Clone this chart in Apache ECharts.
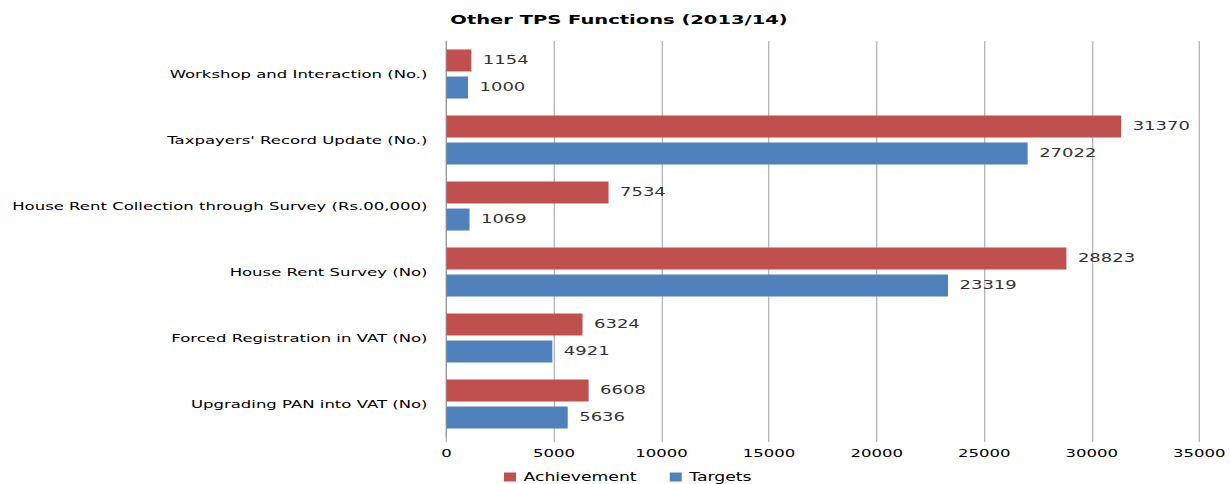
<!DOCTYPE html>
<html><head><meta charset="utf-8">
<script src="https://cdn.jsdelivr.net/npm/echarts@6/dist/echarts.min.js"></script>
<style>html,body{margin:0;padding:0;background:#fff;overflow:hidden}
#wrap{width:1230px;height:484px;overflow:hidden}
#c{width:820px;height:484px;transform:scaleX(1.5);transform-origin:0 0}</style>
</head><body><div id="wrap"><div id="c"></div></div>
<script>
const categories = ["Upgrading PAN into VAT (No)", "Forced Registration in VAT (No)", "House Rent Survey (No)", "House Rent Collection through Survey (Rs.00,000)", "Taxpayers' Record Update (No.)", "Workshop and Interaction (No.)"];
const achievement = [6608, 6324, 28823, 7534, 31370, 1154];
const targets = [5636, 4921, 23319, 1069, 27022, 1000];
const xTicks = [0, 5000, 10000, 15000, 20000, 25000, 30000, 35000];
const FONT = "DejaVu Sans";
const S = 1.5; // horizontal stretch of the reference picture
const chart = echarts.init(document.getElementById('c'), null, {renderer: 'svg'});
const labelCfg = {show: true, position: 'right', distance: 11.5 / S, color: '#333', fontFamily: FONT, fontSize: 12};
chart.setOption({
  animation: false,
  title: {text: 'Other TPS Functions (2013/14)', left: 619 / S, textAlign: 'center', top: 13, padding: 0,
    textStyle: {fontFamily: FONT, fontSize: 13, fontWeight: 'bold', color: '#000'}},
  legend: {data: ['Achievement', 'Targets'], left: 504 / S, top: 471, padding: 0, itemWidth: 12 / S, itemHeight: 9, itemGap: 33 / S,
    icon: 'rect', textStyle: {fontFamily: FONT, fontSize: 11.5, color: '#000'}},
  grid: {left: 446.5 / S, right: 25.5 / S, top: 41, bottom: 47, containLabel: false},
  xAxis: {type: 'value', min: xTicks[0], max: xTicks[xTicks.length - 1], interval: 5000,
    axisLine: {show: false}, axisTick: {show: true, length: 5, lineStyle: {color: '#8c8c8c', width: 1 / S}},
    splitLine: {show: true, lineStyle: {color: '#8c8c8c', width: 1 / S}},
    axisLabel: {fontFamily: FONT, fontSize: 11, color: '#000', margin: 11, formatter: v => String(v)}},
  yAxis: {type: 'category', data: categories,
    axisLine: {show: true, lineStyle: {color: '#8c8c8c', width: 1 / S}}, axisTick: {show: false},
    axisLabel: {fontFamily: FONT, fontSize: 11, color: '#000', margin: 19 / S}},
  series: [
    {name: 'Achievement', type: 'bar', data: achievement, barWidth: 22, barGap: '23%', itemStyle: {color: '#C0504D'}, label: labelCfg},
    {name: 'Targets', type: 'bar', data: targets, barWidth: 22, barGap: '23%', itemStyle: {color: '#4F81BD'}, label: labelCfg}
  ]
});
</script></body></html>
